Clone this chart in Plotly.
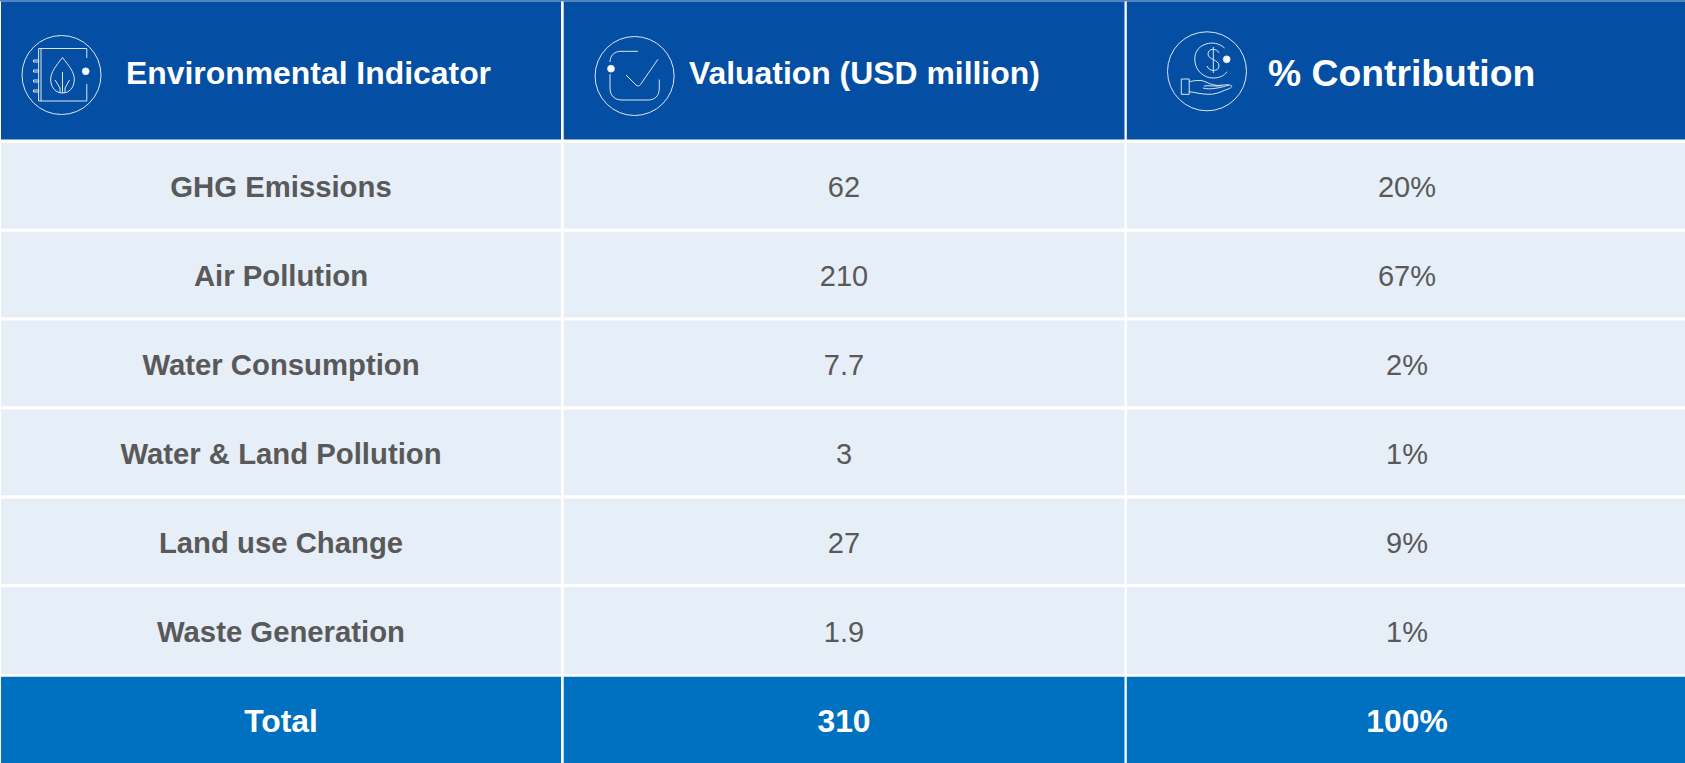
import plotly.graph_objects as go

# ---- data ----
indicators = ["GHG Emissions", "Air Pollution", "Water Consumption",
              "Water & Land Pollution", "Land use Change", "Waste Generation"]
valuation = ["62", "210", "7.7", "3", "27", "1.9"]
contribution = ["20%", "67%", "2%", "1%", "9%", "1%"]
headers = ["Environmental Indicator", "Valuation (USD million)", "% Contribution"]
total_row = ["Total", "310", "100%"]

# ---- layout / styles ----
W, H = 1685, 763
FONT = "Liberation Sans"
HEAD, BODY, TOTAL = "#044FA3", "#E6EEF8", "#0070C0"
GREY = "#595959"
col_edges = [(1, 561), (563.7, 1124.5), (1126.8, 1685)]
col_centers = [281, 844, 1407]
row_edges = [(142.7, 228.4), (231.7, 317.4), (320.6, 406.3), (409.5, 495.2), (498.4, 584.1), (587.3, 674)]
total_edge = (676.7, 763)
head_edge = (1.5, 139.5)
head_x = [124.3, 687.3, 1266.3]
head_y = [73, 73, 73]
head_size = [31.9, 31.9, 37.3]

fig = go.Figure()
shapes = []
INK = "#DCE7F4"


def rect(x0, x1, y0, y1, color):
    shapes.append(dict(type="rect", xref="x", yref="y", x0=x0, x1=x1, y0=y0, y1=y1,
                       fillcolor=color, line=dict(width=0), layer="below"))


def path(d, width=1):
    shapes.append(dict(type="path", xref="x", yref="y", path=d, layer="above",
                       line=dict(color=INK, width=width), fillcolor="rgba(0,0,0,0)"))


def circle(cx, cy, r, width=1, fill=None):
    shapes.append(dict(type="circle", xref="x", yref="y", x0=cx - r, x1=cx + r, y0=cy - r, y1=cy + r,
                       layer="above", line=dict(color=INK, width=width),
                       fillcolor=fill if fill else "rgba(0,0,0,0)"))


# backgrounds
rect(0, W, 0, 1.5, "#4F82BD")
for x0, x1 in col_edges:
    rect(x0, x1, *head_edge, HEAD)
    for y0, y1 in row_edges:
        rect(x0, x1, y0, y1, BODY)
    rect(x0, x1, *total_edge, TOTAL)

# icon 1: notebook and leaf
circle(61.5, 75, 39.5)
path("M86.8,58 L86.8,48.5 L38.6,48.5 L38.6,101 L86.8,101 L86.8,84")
path("M41,48.5 L41,101")
for yy in (60, 70, 80, 90):
    path(f"M33.5,{yy} L38.6,{yy} L38.6,{yy+2} L33.5,{yy+2} Z")
path("M62.5,57.5 C56,66 50.5,72 50.7,80 C51,88 56,93 62.5,93 C69,93 74,88 74.3,80 C74.5,72 69,66 62.5,57.5 Z")
path("M62.5,72 L62.5,93 M55,80 L60,88 L60,93 M69.5,80 L65,88 L65,93")
circle(85.7, 71.3, 3.4, fill="#FFFFFF")

# icon 2: rounded box and tick
circle(634.6, 76, 39.5)
path("M637.9,51.3 L621,51.3 C614,51.3 610,56 610,62")
path("M610,74 L610,88 C610,96 615,100 622,100 L648,100 C655,100 659.3,96 659.3,88 L659.3,79.5")
path("M626,75 L636,85 C637.5,86.5 639.5,86 640.5,84.5 L657.9,59.3")
circle(611, 68.7, 3.4, fill="#FFFFFF")

# icon 3: coin over a hand
circle(1207, 71.3, 39.5)
path("M1224.5,48 C1219,43 1212,42 1206,44 C1197,47 1194,54 1195,62 C1196,71 1204,78 1213,78 "
     "C1219,78 1224,76 1227,71.7")
path("M1219,53 C1217,48 1208,48 1208,54 C1208,60 1219,59 1219,66 C1219,72 1209,72 1207,66")
path("M1213.3,47 L1213.3,73")
circle(1226.7, 59.3, 3.4, fill="#FFFFFF")
path("M1181.3,79 L1189.2,79 L1189.2,94.3 L1181.3,94.3 Z")
path("M1189.2,81.7 C1195,80.5 1201,79.5 1206,82 C1211,84.5 1214,85 1218,85.5 C1224,85 1230,84 1231.7,86 "
     "C1232,88 1228,89 1224,90.5 C1219,93 1214,94.5 1208,94.3 C1201,94 1195,92.5 1189.2,91.7")
path("M1203,88 C1209,90 1220,88 1229,85")
path("M1204,86 C1209,85 1215,87 1222,85.5")

fig.update_layout(shapes=shapes)


def text_trace(xs, ys, labels, size, color, bold):
    fig.add_trace(go.Scatter(
        x=xs, y=ys, text=labels, mode="text", textposition="middle center", hoverinfo="skip",
        showlegend=False, cliponaxis=False,
        textfont=dict(family=FONT, size=size, color=color, weight="bold" if bold else "normal"),
    ))


row_y = [(a + b) / 2 + 4 for a, b in row_edges]
text_trace([col_centers[0]] * 6, row_y, indicators, 29.3, GREY, True)
text_trace([col_centers[1]] * 6, row_y, valuation, 29, GREY, False)
text_trace([col_centers[2]] * 6, row_y, contribution, 29, GREY, False)
text_trace(col_centers, [723.7] * 3, total_row, 31.8, "#FFFFFF", True)

annotations = [
    dict(x=x, y=y, xref="x", yref="y", text=t, showarrow=False, xanchor="left", yanchor="middle",
         font=dict(family=FONT, size=s, color="#FFFFFF", weight="bold"))
    for x, y, t, s in zip(head_x, head_y, headers, head_size)
]

fig.update_layout(
    width=W, height=H, margin=dict(l=0, r=0, t=0, b=0, pad=0),
    paper_bgcolor="#FFFFFF", plot_bgcolor="#FFFFFF", annotations=annotations,
    xaxis=dict(visible=False, range=[0, W], domain=[0, 1], fixedrange=True),
    yaxis=dict(visible=False, range=[H, 0], domain=[0, 1], fixedrange=True),
)

fig.write_html("out.html", config=dict(displayModeBar=False),
               post_script="document.body.style.margin='0';document.body.style.padding='0';")
